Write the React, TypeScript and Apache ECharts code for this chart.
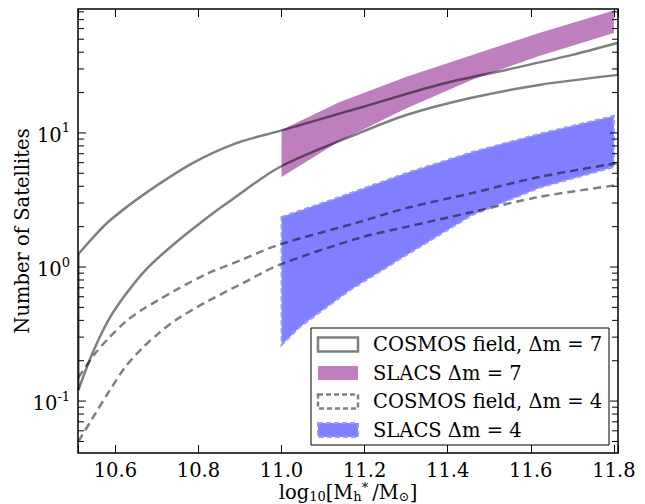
import React, { useEffect, useRef } from "react";
import * as echarts from "echarts";

const FF = '"DejaVu Serif", serif';
const FS = 19.5;

// axis extents
const X_MIN = 10.51;
const X_MAX = 11.81;
const Y_MIN = 0.041;
const Y_MAX = 84;

const xTickLabels = [10.6, 10.8, 11.0, 11.2, 11.4, 11.6, 11.8];
const yMajorTicks = [0.1, 1, 10];
const yMinorTicks = [
  0.05, 0.06, 0.07, 0.08, 0.09,
  0.2, 0.3, 0.4, 0.5, 0.6, 0.7, 0.8, 0.9,
  2, 3, 4, 5, 6, 7, 8, 9,
  20, 30, 40, 50, 60, 70, 80,
];

// COSMOS field, Δm = 7 (solid outline)
const cosmos7UpperX = [10.511, 10.556, 10.588, 10.667, 10.787, 10.893, 10.996, 11.188, 11.377, 11.54, 11.70, 11.81];
const cosmos7Upper = [1.25, 1.79, 2.24, 3.45, 5.97, 8.42, 10.35, 15.4, 22.8, 29.5, 38.2, 47];
const cosmos7LowerX = [10.511, 10.545, 10.583, 10.624, 10.677, 10.744, 10.823, 10.869, 10.996, 11.188, 11.30, 11.455, 11.62, 11.81];
const cosmos7Lower = [0.121, 0.228, 0.40, 0.62, 0.98, 1.51, 2.36, 3.0, 5.57, 10.0, 13.6, 18.2, 22.8, 27.1];

// COSMOS field, Δm = 4 (dashed outline)
const cosmos4X = [10.511, 10.552, 10.584, 10.624, 10.664, 10.704, 10.744, 10.824, 10.904, 10.992, 11.188, 11.30, 11.459, 11.62, 11.81];
const cosmos4Upper = [0.15, 0.228, 0.295, 0.39, 0.48, 0.567, 0.67, 0.90, 1.13, 1.46, 2.17, 2.75, 3.56, 4.69, 5.97];
const cosmos4Lower = [0.05, 0.081, 0.117, 0.18, 0.247, 0.32, 0.40, 0.56, 0.75, 1.03, 1.65, 1.99, 2.57, 3.33, 4.09];

// SLACS Δm = 7 (purple band)
const slacs7X = [11.0, 11.14, 11.301, 11.459, 11.62, 11.80];
const slacs7Upper = [10.5, 17.0, 26.2, 38.2, 55.7, 82];
const slacs7Lower = [4.7, 8.72, 15.3, 24.9, 37.5, 55.7];

// SLACS Δm = 4 (blue band)
const slacs4UpperX = [11.0, 11.14, 11.301, 11.459, 11.62, 11.80];
const slacs4Upper = [2.36, 3.33, 5.03, 7.2, 9.82, 13.4];
const slacs4LowerX = [11.0, 11.044, 11.164, 11.301, 11.459, 11.62, 11.80];
const slacs4Lower = [0.262, 0.357, 0.67, 1.23, 2.44, 3.89, 5.57];

const LINE_COLOR = "rgba(0,0,0,0.5)";
const PURPLE = "#BF7FBF";
const BLUE = "#7F7FFF";

function bandRenderer(
  ux: number[], uy: number[], lx: number[], ly: number[], style: any
) {
  return (params: any, api: any) => {
    const pts: number[][] = [];
    ux.forEach((x, i) => pts.push(api.coord([x, uy[i]])));
    for (let i = lx.length - 1; i >= 0; i--) pts.push(api.coord([lx[i], ly[i]]));
    return { type: "polygon", shape: { points: pts }, style };
  };
}

function edgeRenderer(dash: number[] | null) {
  return (params: any, api: any) => {
    const p1 = api.coord([api.value(0), api.value(1)]);
    const p2 = api.coord([api.value(0), api.value(2)]);
    return {
      type: "line",
      shape: { x1: p1[0], y1: p1[1], x2: p2[0], y2: p2[1] },
      style: { stroke: LINE_COLOR, lineWidth: 2.5, lineDash: dash || undefined },
    };
  };
}

function yTickRenderer(params: any, api: any) {
  const v = api.value(1);
  const major = api.value(2) === 1;
  const len = major ? 8 : 6;
  const l = api.coord([X_MIN, v]);
  const r = api.coord([X_MAX, v]);
  return {
    type: "group",
    children: [
      { type: "line", shape: { x1: l[0], y1: l[1], x2: l[0] + len, y2: l[1] }, style: { stroke: "#000", lineWidth: 1 } },
      { type: "line", shape: { x1: r[0], y1: r[1], x2: r[0] - len, y2: r[1] }, style: { stroke: "#000", lineWidth: 1 } },
    ],
  };
}

export default function App() {
  const ref = useRef<HTMLDivElement>(null);
  useEffect(() => {
    if (!ref.current) return;
    const chart = echarts.init(ref.current, null, { renderer: "svg" });

    const xAxisBase = {
      type: "value",
      min: X_MIN,
      max: X_MAX,
      splitNumber: 6,
      axisLine: { show: false },
      splitLine: { show: false },
      axisTick: { show: true, inside: true, length: 8, lineStyle: { color: "#000", width: 1 } },
    };

    const legendRows = [
      { label: "COSMOS field, Δm = 7", kind: "outline" },
      { label: "SLACS Δm = 7", kind: "purple" },
      { label: "COSMOS field, Δm = 4", kind: "dashed" },
      { label: "SLACS Δm = 4", kind: "blue" },
    ];
    const legendEls: any[] = [
      {
        type: "rect",
        shape: { x: 311, y: 328, width: 298, height: 117 },
        style: { fill: "#fff", stroke: "#000", lineWidth: 1 },
        z: 100,
      },
    ];
    legendRows.forEach((row, i) => {
      const cy = 344.5 + i * 28.5;
      let style: any;
      if (row.kind === "outline") style = { fill: "none", stroke: "#808080", lineWidth: 2.5 };
      else if (row.kind === "dashed") style = { fill: "none", stroke: "#808080", lineWidth: 2.5, lineDash: [5, 3] };
      else if (row.kind === "purple") style = { fill: PURPLE };
      else style = { fill: BLUE, stroke: "#9a9aff", lineWidth: 2, lineDash: [5, 3] };
      legendEls.push({
        type: "rect",
        shape: { x: 318, y: cy - 7, width: 40, height: 14 },
        style,
        z: 101,
      });
      legendEls.push({
        type: "text",
        x: 373,
        y: cy,
        style: { text: row.label, fontFamily: FF, fontSize: FS, fill: "#000", verticalAlign: "middle", align: "left" },
        z: 101,
      });
    });

    const option: any = {
      animation: false,
      backgroundColor: "#fff",
      grid: {
        left: 78,
        right: 27,
        top: 9,
        bottom: 51,
        show: true,
        borderColor: "#000",
        borderWidth: 1.5,
        backgroundColor: "transparent",
        outerBoundsMode: "none",
      },
      xAxis: [
        {
          ...xAxisBase,
          position: "bottom",
          axisLabel: {
            margin: 7,
            fontFamily: FF,
            fontSize: FS,
            color: "#000",
            formatter: (v: number) =>
              xTickLabels.some((t) => Math.abs(t - v) < 1e-6) ? v.toFixed(1) : "",
          },
          name: "{n|log}{sub|10}{n|[M}{sub|h}{st|*}{n|/M}{sub|⊙}{n|]}",
          nameLocation: "middle",
          nameGap: 28,
          nameMoveOverlap: false,
          nameTextStyle: {
            rich: {
              n: { fontFamily: FF, fontSize: FS, color: "#000" },
              sub: { fontFamily: FF, fontSize: 13, color: "#000", padding: [8, 0, 0, 0] },
              st: { fontFamily: FF, fontSize: 13, color: "#000", padding: [0, 4, 9, 0] },
            },
          },
        },
        {
          ...xAxisBase,
          position: "top",
          axisLabel: { show: false },
        },
      ],
      yAxis: [
        {
          type: "log",
          logBase: 10,
          min: Y_MIN,
          max: Y_MAX,
          axisLine: { show: false },
          axisTick: { show: false },
          minorTick: { show: false },
          splitLine: { show: false },
          axisLabel: {
            margin: 8,
            formatter: (v: number) => {
              const e = Math.log10(v);
              const r = Math.round(e);
              if (Math.abs(e - r) > 1e-6) return "";
              return "{b|10}{s|" + r + "}";
            },
            rich: {
              b: { fontFamily: FF, fontSize: FS, color: "#000", padding: [5, 0, 0, 0] },
              s: { fontFamily: FF, fontSize: 13, color: "#000", padding: [0, 0, 10, 0] },
            },
          },
          name: "Number of Satellites",
          nameLocation: "middle",
          nameGap: 46,
          nameMoveOverlap: false,
          nameTextStyle: { fontFamily: FF, fontSize: FS, color: "#000" },
        },
      ],
      series: [
        {
          type: "custom",
          name: "SLACS Δm = 7",
          clip: true,
          z: 1,
          renderItem: bandRenderer(slacs7X, slacs7Upper, slacs7X, slacs7Lower, { fill: PURPLE }),
          data: [[slacs7X[0], slacs7Upper[0]]],
        },
        {
          type: "custom",
          name: "SLACS Δm = 4",
          clip: true,
          z: 1,
          renderItem: bandRenderer(slacs4UpperX, slacs4Upper, slacs4LowerX, slacs4Lower, {
            fill: BLUE,
            stroke: "#9a9aff",
            lineWidth: 2,
            lineDash: [5, 3],
          }),
          data: [[slacs4UpperX[0], slacs4Upper[0]]],
        },
        {
          type: "line",
          name: "COSMOS field, Δm = 7",
          z: 3,
          symbol: "none",
          smooth: 0.3,
          clip: true,
          lineStyle: { color: LINE_COLOR, width: 2.5 },
          data: cosmos7UpperX.map((x, i) => [x, cosmos7Upper[i]]),
        },
        {
          type: "line",
          name: "COSMOS field, Δm = 7 (lower)",
          z: 3,
          symbol: "none",
          smooth: 0.3,
          clip: true,
          lineStyle: { color: LINE_COLOR, width: 2.5 },
          data: cosmos7LowerX.map((x, i) => [x, cosmos7Lower[i]]),
        },
        {
          type: "custom",
          name: "COSMOS Δm = 7 edges",
          z: 3,
          clip: true,
          renderItem: edgeRenderer(null),
          data: [
            [cosmos7UpperX[cosmos7UpperX.length - 1], cosmos7Lower[cosmos7Lower.length - 1], cosmos7Upper[cosmos7Upper.length - 1]],
            [cosmos7UpperX[0], cosmos7Lower[0], cosmos7Upper[0]],
          ],
        },
        {
          type: "line",
          name: "COSMOS field, Δm = 4",
          z: 3,
          symbol: "none",
          smooth: 0.3,
          clip: true,
          lineStyle: { color: LINE_COLOR, width: 2.5, type: [8, 5] },
          data: cosmos4X.map((x, i) => [x, cosmos4Upper[i]]),
        },
        {
          type: "line",
          name: "COSMOS field, Δm = 4 (lower)",
          z: 3,
          symbol: "none",
          smooth: 0.3,
          clip: true,
          lineStyle: { color: LINE_COLOR, width: 2.5, type: [8, 5] },
          data: cosmos4X.map((x, i) => [x, cosmos4Lower[i]]),
        },
        {
          type: "custom",
          name: "COSMOS Δm = 4 edges",
          z: 3,
          clip: true,
          renderItem: edgeRenderer([8, 5]),
          data: [
            [cosmos4X[cosmos4X.length - 1], cosmos4Lower[cosmos4Lower.length - 1], cosmos4Upper[cosmos4Upper.length - 1]],
          ],
        },
        {
          type: "custom",
          name: "y ticks",
          z: 5,
          clip: false,
          silent: true,
          renderItem: yTickRenderer,
          data: [
            ...yMajorTicks.map((v) => [X_MIN, v, 1]),
            ...yMinorTicks.map((v) => [X_MIN, v, 0]),
          ],
        },
      ],
      graphic: legendEls,
    };

    chart.setOption(option);
    return () => chart.dispose();
  }, []);

  return (
    <div
      ref={ref}
      style={{ position: "absolute", left: 0, top: 0, width: 645, height: 504 }}
    />
  );
}
